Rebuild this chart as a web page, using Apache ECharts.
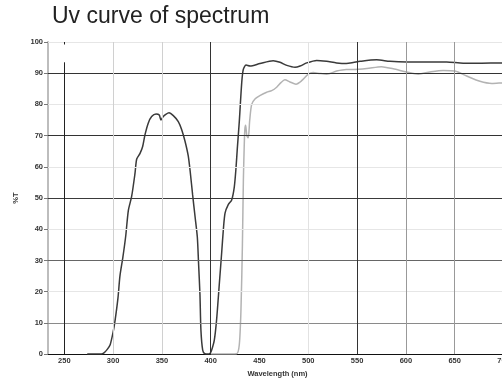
<!DOCTYPE html>
<html>
<head>
<meta charset="utf-8">
<script src="https://cdn.jsdelivr.net/npm/echarts@6/dist/echarts.min.js"></script>
<style>html,body{margin:0;padding:0;background:#fff;overflow:hidden;width:502px;height:383px}#c{width:530px;height:383px}</style>
</head>
<body>
<div id="c"></div>
<script>
var title = 'Uv curve of spectrum';
var xName = 'Wavelength (nm)';
var yName = '%T';
var xTicks = [250, 300, 350, 400, 450, 500, 550, 600, 650, 700];

var darkNm = [273.5, 280, 288, 291, 294, 297, 300, 302, 305, 307, 310, 313, 315.6, 319, 322.4, 324.2, 327.6, 330.3, 332.7, 336, 339.5, 344, 347.3, 349, 351.4, 354, 357.3, 361.7, 366.8, 370.3, 373.7, 377, 379, 381.5, 384, 386.3, 387.5, 389, 390, 391.8, 394, 397.5, 399.5, 401, 403.7, 406, 408.8, 411.3, 413, 414.7, 418, 421.5, 424.2, 426, 427.3, 429.3, 431.8, 433.4, 436.2, 440.3, 450.5, 464, 471, 478, 486.4, 491.6, 498.4, 508.6, 518.8, 529, 539, 546, 553, 570, 583.7, 600.8, 621.3, 641.8, 658.8, 675.9, 698.4, 715];
var darkT = [0, 0, 0, 0.5, 1.5, 3, 7, 10.7, 18, 25, 31, 38, 46, 50.5, 57.8, 62.5, 64.3, 66.5, 70.3, 74, 76.1, 76.9, 76.6, 75, 76.1, 76.8, 77.3, 76.4, 74.5, 71.9, 68.2, 63.5, 58.5, 51, 44, 37.5, 29.6, 19.1, 7.6, 1.3, 0.1, 0, 0.3, 1.3, 4.5, 10.8, 22.3, 32.7, 40, 45.2, 47.9, 49.4, 53.6, 59.9, 66, 74.5, 87, 91.2, 92.6, 92.3, 93.1, 94, 93.5, 92.5, 91.9, 92.3, 93.3, 94.1, 93.8, 93.3, 93.1, 93.4, 93.8, 94.3, 93.8, 93.6, 93.6, 93.6, 93.2, 93.2, 93.3, 93.3];

var grayNm = [400, 410, 420, 426.6, 429.3, 431, 432.5, 433.5, 434.3, 435, 435.8, 437, 438.5, 440, 442, 445.6, 450.8, 457.4, 462.5, 467.6, 472, 476, 481.2, 487.4, 493.2, 500, 505, 512, 519, 529, 539, 546, 560, 575, 587, 600.8, 612.7, 624.7, 638.3, 650.3, 662.3, 675.9, 688, 698.5, 715];
var grayT = [0, 0, 0, 0.1, 3, 14, 35, 56, 66, 72, 73.3, 70, 69.3, 75, 80, 81.8, 82.9, 83.9, 84.4, 85.5, 87, 87.9, 87.2, 86.5, 87.6, 89.7, 90.2, 89.9, 89.7, 90.7, 91.2, 91.2, 91.5, 92.1, 91.4, 90.4, 89.7, 90.4, 90.9, 90.7, 89.1, 87.4, 86.7, 86.9, 87.2];

function pairs(xs, ys) { return xs.map(function (x, i) { return [x, ys[i]]; }); }

var hLines = [
  { y: 100, c: '#e6e6e6' }, { y: 90, c: '#333' }, { y: 80, c: '#e6e6e6' }, { y: 70, c: '#333' },
  { y: 60, c: '#e6e6e6' }, { y: 50, c: '#3a3a3a' }, { y: 40, c: '#e6e6e6' }, { y: 30, c: '#666' },
  { y: 20, c: '#e6e6e6' }, { y: 10, c: '#8a8a8a' }
];
var vLines = [
  { x: 300, c: '#d0d0d0' }, { x: 350, c: '#d0d0d0' }, { x: 400, c: '#333' },
  { x: 500, c: '#e2e2e2' }, { x: 550, c: '#333' }, { x: 600, c: '#999' }, { x: 650, c: '#999' }, { x: 700, c: '#999' }
];

var markData = [];
hLines.forEach(function (l) { markData.push({ yAxis: l.y, lineStyle: { color: l.c, width: 1, type: 'solid' } }); });
vLines.forEach(function (l) { markData.push({ xAxis: l.x, lineStyle: { color: l.c, width: 1, type: 'solid' } }); });
markData.push([{ coord: [250, 0], lineStyle: { color: '#222', width: 1, type: 'solid' } }, { coord: [250, 93.5] }]);
markData.push([{ coord: [250, 99.2], lineStyle: { color: '#222', width: 1, type: 'solid' } }, { coord: [250, 100] }]);

var chart = echarts.init(document.getElementById('c'), null, { renderer: 'canvas' });
var labelFont = { fontFamily: 'Liberation Sans, Arial, sans-serif', fontSize: 7.5, fontWeight: 'bold', color: '#333' };
chart.setOption({
  animation: false,
  backgroundColor: '#fff',
  title: {
    text: title, left: 52, top: 5, padding: 0,
    textStyle: { fontFamily: 'Liberation Sans, Arial, sans-serif', fontSize: 23, fontWeight: 'normal', color: '#222' }
  },
  grid: { left: 48, top: 42, bottom: 22, right: 7, containLabel: false },
  xAxis: {
    type: 'value', min: 233.3, max: 720,
    name: xName, nameLocation: 'middle', nameGap: 10,
    nameTextStyle: Object.assign({ padding: [0, 16, 0, 0] }, labelFont),
    axisLine: { show: true, onZero: false, lineStyle: { color: '#111', width: 1 } },
    axisTick: { show: false },
    splitLine: { show: false },
    axisLabel: Object.assign({ margin: 3, customValues: xTicks, formatter: function (v) { return String(v); } }, labelFont)
  },
  yAxis: {
    type: 'value', min: 0, max: 100, interval: 10,
    name: yName, nameLocation: 'middle', nameGap: 17, nameRotate: 90,
    nameTextStyle: labelFont,
    axisLine: { show: true, lineStyle: { color: '#bdbdbd', width: 2 } },
    axisTick: { show: true, length: 4, lineStyle: { color: '#777', width: 1 } },
    splitLine: { show: false },
    axisLabel: Object.assign({ margin: 5 }, labelFont)
  },
  series: [
    {
      type: 'line', data: [], z: 1, silent: true,
      markLine: { silent: true, symbol: ['none', 'none'], label: { show: false }, animation: false, data: markData }
    },
    {
      type: 'line', data: pairs(grayNm, grayT), z: 3, showSymbol: false, smooth: 0.25,
      lineStyle: { color: '#b3b3b3', width: 1.5 }
    },
    {
      type: 'line', data: pairs(darkNm, darkT), z: 4, showSymbol: false, smooth: 0.25,
      lineStyle: { color: '#3a3a3a', width: 1.5 }
    }
  ]
});
</script>
</body>
</html>
